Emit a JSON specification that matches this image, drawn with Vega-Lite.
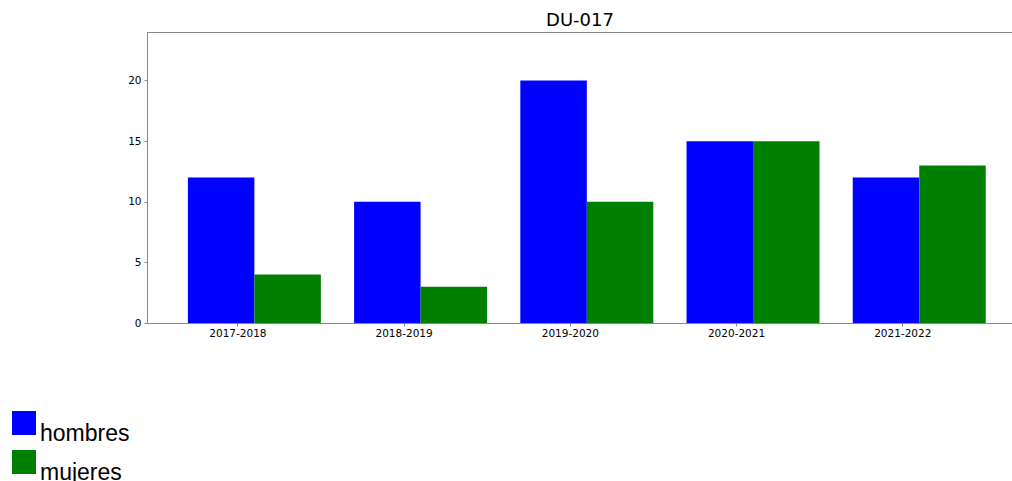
{
  "$schema": "https://vega.github.io/schema/vega-lite/v6.json",
  "autosize": {"type": "none"},
  "padding": {"left": 147, "top": 32, "right": 0, "bottom": 158},
  "width": 866,
  "height": 291,
  "title": {"text": "DU-017", "font": "DejaVu Sans", "fontSize": 18, "fontWeight": "normal", "color": "#000000", "anchor": "middle", "offset": 2},
  "data": {"values": [
    {"curso": "2017-2018", "sexo": "hombres", "n": 12},
    {"curso": "2017-2018", "sexo": "mujeres", "n": 4},
    {"curso": "2018-2019", "sexo": "hombres", "n": 10},
    {"curso": "2018-2019", "sexo": "mujeres", "n": 3},
    {"curso": "2019-2020", "sexo": "hombres", "n": 20},
    {"curso": "2019-2020", "sexo": "mujeres", "n": 10},
    {"curso": "2020-2021", "sexo": "hombres", "n": 15},
    {"curso": "2020-2021", "sexo": "mujeres", "n": 15},
    {"curso": "2021-2022", "sexo": "hombres", "n": 12},
    {"curso": "2021-2022", "sexo": "mujeres", "n": 13}
  ]},
  "mark": {"type": "bar"},
  "encoding": {
    "x": {
      "field": "curso", "type": "nominal", "title": null,
      "scale": {"paddingInner": 0.2, "paddingOuter": 0.205, "align": 0.6},
      "axis": {"tickOffset": -17, "labelAngle": 0, "labelFont": "DejaVu Sans", "labelFontSize": 10.5, "labelColor": "#000000", "domainColor": "#888888", "tickColor": "#888888", "tickSize": 3, "labelPadding": 2}
    },
    "xOffset": {"field": "sexo", "type": "nominal", "scale": {"paddingInner": 0, "paddingOuter": 0}},
    "y": {
      "field": "n", "type": "quantitative", "title": null,
      "scale": {"domain": [0, 24], "nice": false},
      "axis": {"values": [0, 5, 10, 15, 20], "grid": false, "labelFont": "DejaVu Sans", "labelFontSize": 10.5, "labelColor": "#000000", "domainColor": "#888888", "tickColor": "#888888", "tickSize": 3, "labelPadding": 3}
    },
    "color": {
      "field": "sexo", "type": "nominal", "title": null,
      "scale": {"domain": ["hombres", "mujeres"], "range": ["#0000ff", "#008000"]},
      "legend": {"orient": "none", "legendX": -135, "legendY": 379, "symbolType": "square", "symbolSize": 576, "symbolStrokeWidth": 0, "symbolOpacity": 1, "labelFont": "Liberation Sans", "labelFontSize": 23, "labelColor": "#000000", "labelBaseline": "top", "labelOffset": 4, "rowPadding": 4, "padding": 0}
    }
  },
  "config": {"view": {"stroke": "#888888"}, "axis": {"domainWidth": 1}}
}
